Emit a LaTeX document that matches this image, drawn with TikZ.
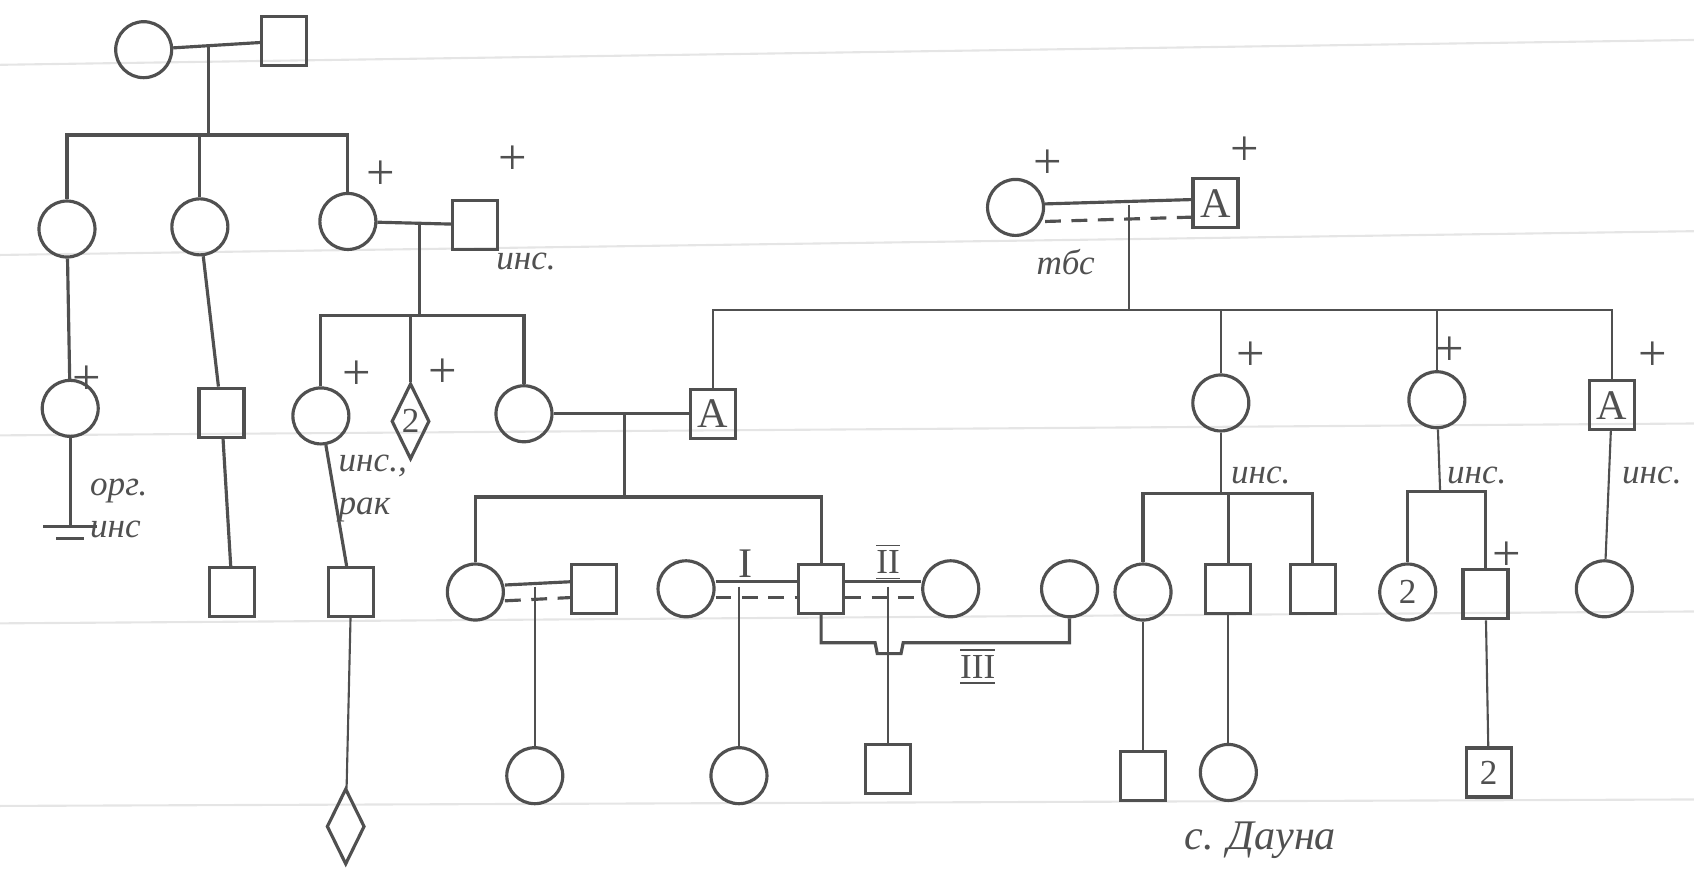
\documentclass[tikz,border=0pt]{standalone}
\usepackage{fontspec}
\setmainfont{Liberation Serif}
\usetikzlibrary{shapes.geometric}

\definecolor{pencil}{RGB}{80,80,80}

\begin{document}
\begin{tikzpicture}[x=0.10804mm, y=-0.10804mm, pencil, line width=0.9pt,
  every node/.style={inner sep=0pt, text=pencil},
  female/.style={circle, draw, minimum size=5.6mm},
  male/.style={rectangle, draw, minimum width=4.5mm, minimum height=4.9mm},
  sexunk/.style={diamond, draw, aspect=0.5, minimum width=3.8mm, minimum height=7.6mm},
  dead/.style={font=\Large},
  note/.style={font=\itshape, anchor=west, align=left},
  thinline/.style={line width=0.6pt},
  spouse/.style={dash pattern=on 4.5pt off 3pt}]
  \useasboundingbox (0,0) rectangle (1568,809);
  % paper rules
  \foreach \ya/\yb in {60/37, 236/214, 403/392, 577/566, 746/740}
    \draw[black!10, line width=0.6pt] (0,\ya) -- (1568,\yb);

  % generation I
  \node[female] (gf) at (133,46) {};
  \node[male] (gm) at (263,38) {};
  \draw (gf) -- (gm);
  \coordinate (j1) at (193,43);
  \coordinate (s1) at (193,125);
  \draw (j1) -- (s1);

  % generation II
  \node[female] (a1) at (62,212) {};
  \node[female] (a2) at (185,210) {};
  \node[female] (a3) at (322,205) {};
  \node[male] (a3h) at (440,208) {};
  \draw (a1.north) |- (s1) -| (a3.north);
  \draw (a2.north) -- (a2.north |- s1);
  \draw (a3) -- (a3h);
  \coordinate (j2) at (388,206);
  \coordinate (s2) at (388,292);
  \draw (j2) -- (s2);

  \node[female] (bf) at (940,192) {};
  \node[male, font=\large] (bm) at (1125,188) {А};
  \draw ([yshift=1pt]bf.east) -- ([yshift=1pt]bm.west);
  \draw[spouse] ([yshift=-4pt]bf.east) -- ([yshift=-4pt]bm.west);
  \coordinate (j3) at (1045,190);
  \coordinate (s3) at (1045,287);
  \draw[thinline] (j3) -- (s3);

  % generation III
  \node[female] (a4) at (65,378) {};
  \node[male] (a5) at (205,382) {};
  \node[female] (c1) at (297,385) {};
  \node[sexunk] (c2) at (380,390) {2};
  \node[female] (c3) at (485,383) {};
  \node[male, font=\large] (c4) at (660,383) {А};
  \node[female] (d1) at (1130,373) {};
  \node[female] (d2) at (1330,370) {};
  \node[male, font=\large] (d3) at (1492,375) {А};
  \draw (a1) -- (a4);
  \draw (a2) -- (a5);
  \draw (c1.north) |- (s2) -| (c3.north);
  \draw (c2.north) -- (c2.north |- s2);
  \draw[thinline] (c4.north) |- (s3) -| (d3.north);
  \draw[thinline] (d1.north) -- (d1.north |- s3);
  \draw[thinline] (d2.north) -- (d2.north |- s3);
  \draw (c3) -- (c4);
  \coordinate (j4) at (578,384);
  \coordinate (s4) at (578,460);
  \draw[thinline] (j4) -- (s4);
  % no offspring
  \coordinate (nz) at (65,487);
  \draw (a4) -- (nz);
  \draw ([xshift=-2.7mm]nz) -- ([xshift=2.7mm]nz);
  \draw ([xshift=-1.4mm,yshift=-1.2mm]nz) -- ([xshift=1.4mm,yshift=-1.2mm]nz);

  % generation IV
  \node[male] (a6) at (215,548) {};
  \node[male] (c5) at (325,548) {};
  \node[female] (e1) at (440,548) {};
  \node[male] (e2) at (550,545) {};
  \node[female] (e4) at (635,545) {};
  \node[male] (e5) at (760,545) {};
  \node[female] (e6) at (880,545) {};
  \node[female] (e7) at (990,545) {};
  \node[female] (g1) at (1058,548) {};
  \node[male] (g2) at (1137,545) {};
  \node[male] (g3) at (1215,545) {};
  \node[female] (g4) at (1303,548) {2};
  \node[male] (g5) at (1375,550) {};
  \node[female] (g6) at (1485,545) {};
  \draw (a5) -- (a6);
  \draw (c1) -- (c5);
  \draw (e1.north) |- (s4) -| (e5.north);
  \foreach \l/\r in {e1/e2, e4/e5, e5/e6} {
    \draw ([yshift=2pt]\l.east) -- ([yshift=2pt]\r.west);
    \draw[spouse] ([yshift=-2.5pt]\l.east) -- ([yshift=-2.5pt]\r.west);
  }
  \coordinate (hopl) at (810,595);
  \coordinate (hopr) at (836,595);
  \draw (e5.south) |- (hopl) -- ++(2,10) -- ++(22,0) -- (hopr) -| (e7.south);
  \coordinate (s5) at (1130,457);
  \coordinate (s6) at (1333,455);
  \draw[thinline] (d1) -- (s5);
  \draw (g1.north) |- (s5) -| (g3.north);
  \draw (g2.north) -- (g2.north |- s5);
  \draw[thinline] (d2) -- (s6);
  \draw (g4.north) |- (s6) -| (g5.north);
  \draw[thinline] (d3) -- (g6);

  % generation V
  \coordinate (j5) at (495,543);
  \coordinate (j6) at (684,543);
  \coordinate (j7) at (822,543);
  \node[female] (f1) at (495,718) {};
  \node[female] (f2) at (684,718) {};
  \node[male] (f3) at (822,712) {};
  \node[sexunk] (c6) at (320,765) {};
  \node[male] (h1) at (1058,718) {};
  \node[female] (h2) at (1137,715) {};
  \node[male] (h3) at (1378,715) {2};
  \draw[thinline] (j5) -- (f1);
  \draw[thinline] (j6) -- (f2);
  \draw[thinline] (j7) -- (f3);
  \draw[thinline] (c5) -- (c6);
  \draw[thinline] (g1) -- (h1);
  \draw[thinline] (g2) -- (h2);
  \draw[thinline] (g5) -- (h3);

  % deceased marks
  \node[dead] (p1) at (352,162) {+};
  \node[dead] (p2) at (475,148) {+};
  \node[dead] (p3) at (970,152) {+};
  \node[dead] (p4) at (1152,140) {+};
  \node[dead] (p5) at (80,352) {+};
  \node[dead] (p6) at (330,347) {+};
  \node[dead] (p7) at (410,345) {+};
  \node[dead] (p8) at (1158,330) {+};
  \node[dead] (p9) at (1342,325) {+};
  \node[dead] (p10) at (1530,330) {+};
  \node[dead] (p11) at (1395,515) {+};

  % notes
  \node[note] (n1) at (458,242) {инс.};
  \node[note, anchor=north west] (n2) at (82,442) {орг.\\инс};
  \node[note, anchor=north west] (n3) at (312,420) {инс.,\\рак};
  \node[note] (n4) at (958,243) {тбс};
  \node[note] (n5) at (1138,440) {инс.};
  \node[note] (n6) at (1338,440) {инс.};
  \node[note] (n7) at (1500,440) {инс.};
  \node[note, font=\itshape\large] (n8) at (1095,778) {с. Дауна};

  % marriage numbers
  \node[font=\large] (r1) at (690,522) {I};
  \node (r2) at (822,520) {$\overline{\underline{\mathrm{II}}}$};
  \node (r3) at (905,617) {$\overline{\underline{\mathrm{III}}}$};
\end{tikzpicture}
\end{document}
